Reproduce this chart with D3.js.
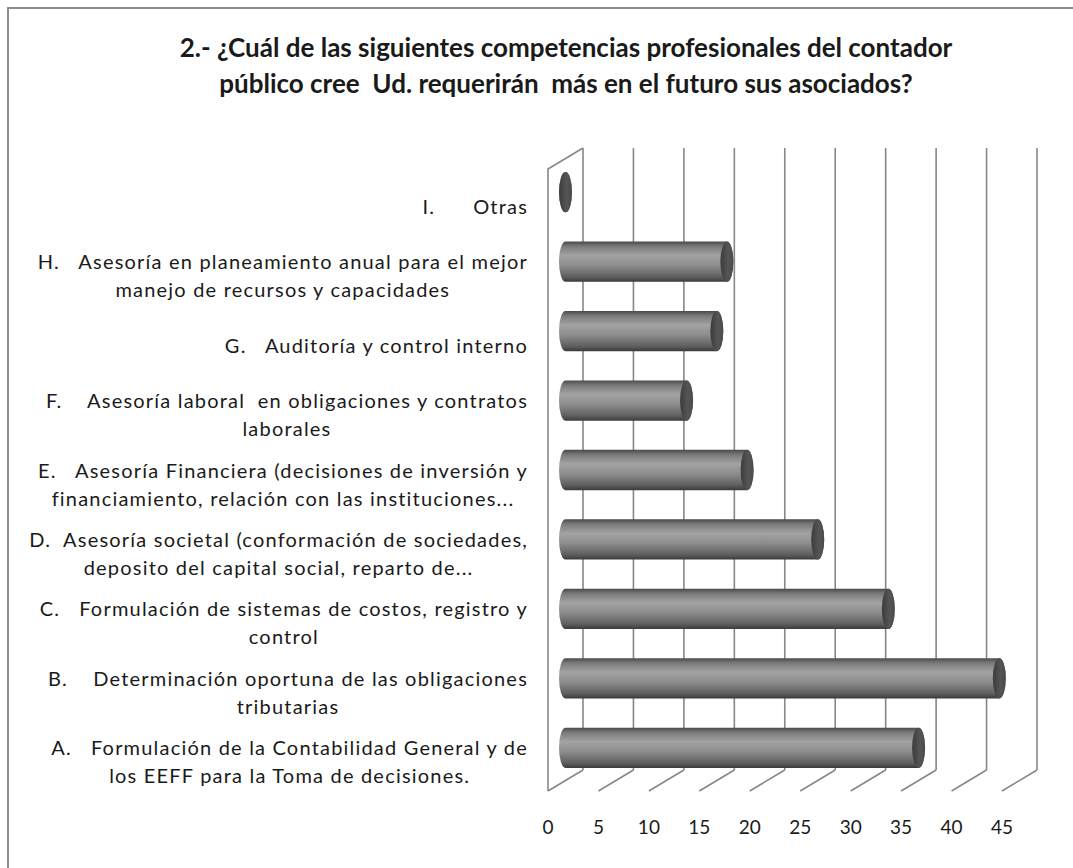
<!DOCTYPE html>
<html>
<head>
<meta charset="utf-8">
<script src="https://cdn.jsdelivr.net/npm/d3@7"></script>
<style>
  body { margin: 0; background: #fff; }
  text { font-family: Lato, "Open Sans", sans-serif; fill: #1a1a1a; white-space: pre; }
</style>
</head>
<body>
<svg id="chart" width="1073" height="868"></svg>
<script>
// categories top to bottom, each label split in its lines
const categories = ['I', 'H', 'G', 'F', 'E', 'D', 'C', 'B', 'A'];
const labels = [
  ['I.      Otras'],
  ['H.   Asesoría en planeamiento anual para el mejor', 'manejo de recursos y capacidades'],
  ['G.   Auditoría y control interno'],
  ['F.    Asesoría laboral  en obligaciones y contratos', 'laborales'],
  ['E.   Asesoría Financiera (decisiones de inversión y', 'financiamiento, relación con las instituciones...'],
  ['D.  Asesoría societal (conformación de sociedades,', 'deposito del capital social, reparto de...'],
  ['C.   Formulación de sistemas de costos, registro y', 'control'],
  ['B.    Determinación oportuna de las obligaciones', 'tributarias'],
  ['A.   Formulación de la Contabilidad General y de', 'los EEFF para la Toma de decisiones.']
];
const values = [0, 16, 15, 12, 18, 25, 32, 43, 35];
const ticks = [0, 5, 10, 15, 20, 25, 30, 35, 40, 45];
const titleLines = [
  '2.- ¿Cuál de las siguientes competencias profesionales del contador',
  'público cree  Ud. requerirán  más en el futuro sus asociados?'
];

const svg = d3.select('#chart');

// depth offset of the 3d floor (back wall -> front edge)
const dx = -35, dy = 21;
const wallTop = 148, wallBottom = 770;

// x scale on the back wall
const x = d3.scaleLinear().domain([0, 45]).range([583, 1037]);
const y = d3.scaleBand().domain(categories).range([147, 772])
  .paddingInner(0.42).paddingOuter(0.21);

// outer frame
svg.append('rect')
  .attr('x', 8).attr('y', 8).attr('width', 1100).attr('height', 900)
  .attr('fill', 'none').attr('stroke', '#8c8c8c').attr('stroke-width', 2);

// title
svg.append('g').selectAll('text')
  .data(titleLines)
  .join('text')
    .attr('x', 566)
    .attr('y', (d, i) => 57 + i * 36)
    .attr('text-anchor', 'middle')
    .attr('font-size', 26)
    .attr('font-weight', 'bold')
    .attr('fill', '#111')
    .text(d => d);

const grid = svg.append('g').attr('stroke', '#878787').attr('stroke-width', 1.6).attr('fill', 'none');

// left wall
grid.append('path')
  .attr('d', `M${x(0)},${wallTop} L${x(0) + dx},${wallTop + dy} L${x(0) + dx},${wallBottom + dy}`);

// back wall gridlines
grid.selectAll('.vline')
  .data(ticks)
  .join('line')
    .attr('class', 'vline')
    .attr('x1', d => x(d)).attr('x2', d => x(d))
    .attr('y1', wallTop).attr('y2', wallBottom);

// floor gridlines
grid.selectAll('.fline')
  .data(ticks)
  .join('line')
    .attr('class', 'fline')
    .attr('x1', d => x(d)).attr('x2', d => x(d) + dx)
    .attr('y1', wallBottom).attr('y2', wallBottom + dy);

// tick labels at the front edge
svg.append('g').selectAll('text')
  .data(ticks)
  .join('text')
    .attr('x', d => x(d) + dx)
    .attr('y', 834)
    .attr('text-anchor', 'middle')
    .attr('font-size', 19)
    .text(d => d);

// gradients for the cylinders
const defs = svg.append('defs');
const body = defs.append('linearGradient').attr('id', 'body')
  .attr('x1', 0).attr('y1', 0).attr('x2', 0).attr('y2', 1);
[[0, '#4a4a4a'], [0.12, '#7a7a7a'], [0.35, '#a3a3a3'], [0.6, '#8c8c8c'], [0.88, '#5e5e5e'], [1, '#3a3a3a']]
  .forEach(s => body.append('stop').attr('offset', s[0]).attr('stop-color', s[1]));
const cap = defs.append('linearGradient').attr('id', 'cap')
  .attr('x1', 0).attr('y1', 0).attr('x2', 1).attr('y2', 0);
[[0, '#3c3c3c'], [0.6, '#555'], [1, '#4a4a4a']]
  .forEach(s => cap.append('stop').attr('offset', s[0]).attr('stop-color', s[1]));

// bars at half depth
const mx = dx / 2, my = dy / 2;
const rx = 6.5;
const bars = svg.append('g').selectAll('g')
  .data(categories.map((c, i) => ({ c, v: values[i] })))
  .join('g');

bars.append('path')
  .attr('fill', 'url(#body)')
  .attr('d', d => {
    const x0 = x(0) + mx, x1 = x(d.v) + mx;
    const t = y(d.c) + my, b = t + y.bandwidth(), r = y.bandwidth() / 2;
    return `M${x0},${t} L${x1},${t} A${rx},${r} 0 0 1 ${x1},${b} L${x0},${b} A${rx},${r} 0 0 1 ${x0},${t} Z`;
  });

bars.append('ellipse')
  .attr('fill', 'url(#cap)')
  .attr('cx', d => x(d.v) + mx)
  .attr('cy', d => y(d.c) + my + y.bandwidth() / 2)
  .attr('rx', rx)
  .attr('ry', y.bandwidth() / 2);

// category labels, block right aligned, lines centred inside the block
const lineH = 28;
const labelRight = 528;
categories.forEach((c, i) => {
  const g = svg.append('g');
  const lines = labels[i];
  const cy = y(c) + y.bandwidth() / 2 + dy + 4;
  const texts = g.selectAll('text')
    .data(lines)
    .join('text')
      .attr('y', (d, j) => cy + (j - (lines.length - 1) / 2) * lineH + 7)
      .attr('text-anchor', 'middle')
      .attr('font-size', 20)
      .attr('letter-spacing', 1.2)
      .text(d => d);
  let w = 0;
  texts.each(function() { w = Math.max(w, this.getComputedTextLength()); });
  texts.attr('x', labelRight - w / 2);
});
</script>
</body>
</html>
